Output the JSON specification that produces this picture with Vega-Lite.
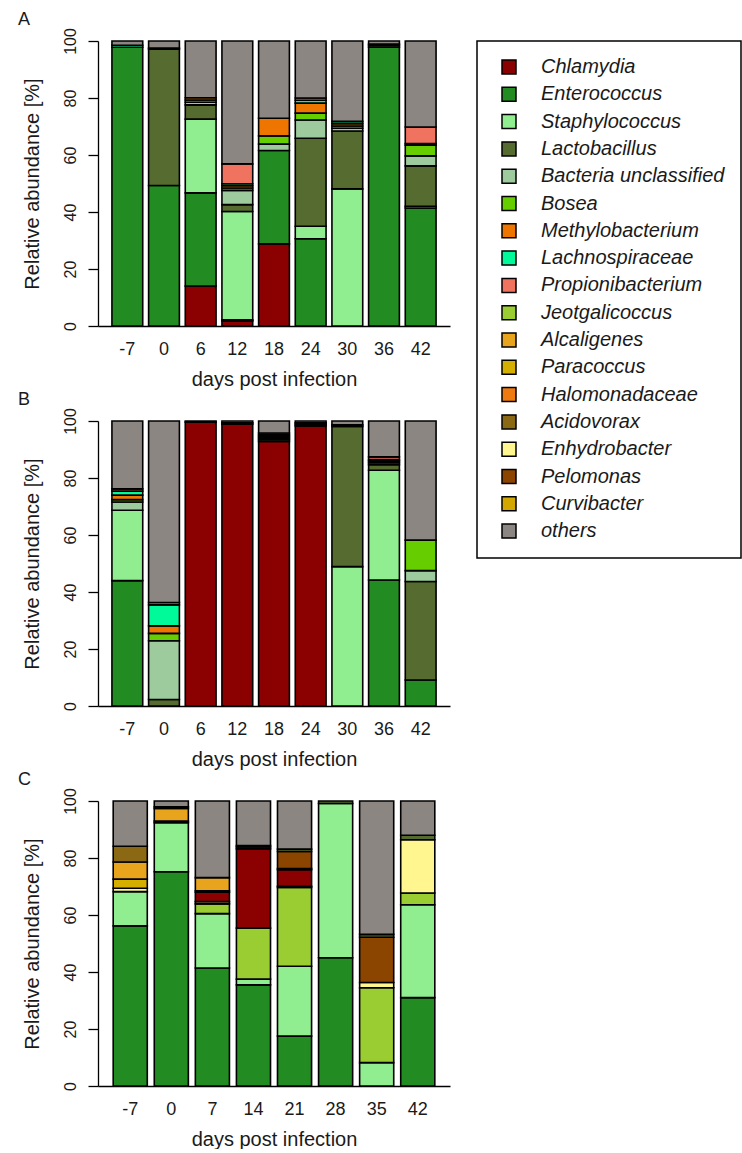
{
  "$schema": "https://vega.github.io/schema/vega-lite/v6.json",
  "background": "white",
  "padding": {"left": 18, "top": 10, "right": 0, "bottom": 0},
  "bounds": "flush",
  "spacing": 95,
  "config": {
    "font": "Liberation Sans",
    "view": {"stroke": null},
    "axis": {"grid": false, "domainColor": "black", "tickColor": "black", "labelColor": "#1a1a1a", "titleColor": "#1a1a1a", "titleFontWeight": "normal", "domainWidth": 1.3, "tickWidth": 1.3},
    "title": {"anchor": "start", "frame": "bounds", "fontSize": 18, "fontWeight": "normal", "color": "#1a1a1a", "offset": 0, "dx": -4, "dy": 5}
  },
  "data": {"values": [
    {"p":"A","day":-7,"taxon":"Enterococcus","pct":97.8,"k":2},
    {"p":"A","day":-7,"taxon":"Lachnospiraceae","pct":0.7,"k":8},
    {"p":"A","day":-7,"taxon":"others","pct":1.5,"k":18},
    {"p":"A","day":0,"taxon":"Enterococcus","pct":49.3,"k":2},
    {"p":"A","day":0,"taxon":"Lactobacillus","pct":47.8,"k":4},
    {"p":"A","day":0,"taxon":"Bosea","pct":0.4,"k":6},
    {"p":"A","day":0,"taxon":"others","pct":2.5,"k":18},
    {"p":"A","day":6,"taxon":"Chlamydia","pct":14.0,"k":1},
    {"p":"A","day":6,"taxon":"Enterococcus","pct":32.7,"k":2},
    {"p":"A","day":6,"taxon":"Staphylococcus","pct":25.9,"k":3},
    {"p":"A","day":6,"taxon":"Lactobacillus","pct":5.0,"k":4},
    {"p":"A","day":6,"taxon":"Bacteria unclassified","pct":0.9,"k":5},
    {"p":"A","day":6,"taxon":"Bosea","pct":0.8,"k":6},
    {"p":"A","day":6,"taxon":"Methylobacterium","pct":0.8,"k":7},
    {"p":"A","day":6,"taxon":"others","pct":19.9,"k":18},
    {"p":"A","day":12,"taxon":"Chlamydia","pct":1.8,"k":1},
    {"p":"A","day":12,"taxon":"Enterococcus","pct":0.4,"k":2},
    {"p":"A","day":12,"taxon":"Staphylococcus","pct":38.0,"k":3},
    {"p":"A","day":12,"taxon":"Lactobacillus","pct":2.4,"k":4},
    {"p":"A","day":12,"taxon":"Bacteria unclassified","pct":5.0,"k":5},
    {"p":"A","day":12,"taxon":"Bosea","pct":0.8,"k":6},
    {"p":"A","day":12,"taxon":"Methylobacterium","pct":0.8,"k":7},
    {"p":"A","day":12,"taxon":"Lachnospiraceae","pct":0.7,"k":8},
    {"p":"A","day":12,"taxon":"Propionibacterium","pct":7.0,"k":9},
    {"p":"A","day":12,"taxon":"others","pct":43.1,"k":18},
    {"p":"A","day":18,"taxon":"Chlamydia","pct":28.8,"k":1},
    {"p":"A","day":18,"taxon":"Enterococcus","pct":32.8,"k":2},
    {"p":"A","day":18,"taxon":"Bacteria unclassified","pct":2.2,"k":5},
    {"p":"A","day":18,"taxon":"Bosea","pct":2.9,"k":6},
    {"p":"A","day":18,"taxon":"Methylobacterium","pct":6.2,"k":7},
    {"p":"A","day":18,"taxon":"others","pct":27.1,"k":18},
    {"p":"A","day":24,"taxon":"Enterococcus","pct":30.6,"k":2},
    {"p":"A","day":24,"taxon":"Staphylococcus","pct":4.4,"k":3},
    {"p":"A","day":24,"taxon":"Lactobacillus","pct":30.9,"k":4},
    {"p":"A","day":24,"taxon":"Bacteria unclassified","pct":6.4,"k":5},
    {"p":"A","day":24,"taxon":"Bosea","pct":2.4,"k":6},
    {"p":"A","day":24,"taxon":"Methylobacterium","pct":3.5,"k":7},
    {"p":"A","day":24,"taxon":"Lachnospiraceae","pct":1.0,"k":8},
    {"p":"A","day":24,"taxon":"Propionibacterium","pct":0.8,"k":9},
    {"p":"A","day":24,"taxon":"others","pct":20.0,"k":18},
    {"p":"A","day":30,"taxon":"Staphylococcus","pct":48.1,"k":3},
    {"p":"A","day":30,"taxon":"Lactobacillus","pct":20.3,"k":4},
    {"p":"A","day":30,"taxon":"Bacteria unclassified","pct":1.0,"k":5},
    {"p":"A","day":30,"taxon":"Bosea","pct":0.8,"k":6},
    {"p":"A","day":30,"taxon":"Methylobacterium","pct":0.8,"k":7},
    {"p":"A","day":30,"taxon":"Lachnospiraceae","pct":0.8,"k":8},
    {"p":"A","day":30,"taxon":"others","pct":28.2,"k":18},
    {"p":"A","day":36,"taxon":"Enterococcus","pct":97.8,"k":2},
    {"p":"A","day":36,"taxon":"Lactobacillus","pct":0.6,"k":4},
    {"p":"A","day":36,"taxon":"Bosea","pct":0.5,"k":6},
    {"p":"A","day":36,"taxon":"others","pct":1.1,"k":18},
    {"p":"A","day":42,"taxon":"Enterococcus","pct":41.4,"k":2},
    {"p":"A","day":42,"taxon":"Staphylococcus","pct":0.6,"k":3},
    {"p":"A","day":42,"taxon":"Lactobacillus","pct":14.2,"k":4},
    {"p":"A","day":42,"taxon":"Bacteria unclassified","pct":3.5,"k":5},
    {"p":"A","day":42,"taxon":"Bosea","pct":3.7,"k":6},
    {"p":"A","day":42,"taxon":"Methylobacterium","pct":0.6,"k":7},
    {"p":"A","day":42,"taxon":"Propionibacterium","pct":5.8,"k":9},
    {"p":"A","day":42,"taxon":"others","pct":30.2,"k":18},

    {"p":"B","day":-7,"taxon":"Enterococcus","pct":44.0,"k":2},
    {"p":"B","day":-7,"taxon":"Staphylococcus","pct":24.7,"k":3},
    {"p":"B","day":-7,"taxon":"Bacteria unclassified","pct":2.9,"k":5},
    {"p":"B","day":-7,"taxon":"Bosea","pct":0.8,"k":6},
    {"p":"B","day":-7,"taxon":"Methylobacterium","pct":1.6,"k":7},
    {"p":"B","day":-7,"taxon":"Lachnospiraceae","pct":1.4,"k":8},
    {"p":"B","day":-7,"taxon":"Propionibacterium","pct":0.8,"k":9},
    {"p":"B","day":-7,"taxon":"others","pct":23.8,"k":18},
    {"p":"B","day":0,"taxon":"Lactobacillus","pct":2.3,"k":4},
    {"p":"B","day":0,"taxon":"Bacteria unclassified","pct":20.6,"k":5},
    {"p":"B","day":0,"taxon":"Bosea","pct":2.6,"k":6},
    {"p":"B","day":0,"taxon":"Methylobacterium","pct":2.6,"k":7},
    {"p":"B","day":0,"taxon":"Lachnospiraceae","pct":7.4,"k":8},
    {"p":"B","day":0,"taxon":"Propionibacterium","pct":0.8,"k":9},
    {"p":"B","day":0,"taxon":"others","pct":63.7,"k":18},
    {"p":"B","day":6,"taxon":"Chlamydia","pct":99.6,"k":1},
    {"p":"B","day":6,"taxon":"others","pct":0.4,"k":18},
    {"p":"B","day":12,"taxon":"Chlamydia","pct":98.9,"k":1},
    {"p":"B","day":12,"taxon":"Enterococcus","pct":0.5,"k":2},
    {"p":"B","day":12,"taxon":"others","pct":0.6,"k":18},
    {"p":"B","day":18,"taxon":"Chlamydia","pct":92.8,"k":1},
    {"p":"B","day":18,"taxon":"Enterococcus","pct":0.6,"k":2},
    {"p":"B","day":18,"taxon":"Lactobacillus","pct":0.6,"k":4},
    {"p":"B","day":18,"taxon":"Bacteria unclassified","pct":0.6,"k":5},
    {"p":"B","day":18,"taxon":"Bosea","pct":0.6,"k":6},
    {"p":"B","day":18,"taxon":"Methylobacterium","pct":0.6,"k":7},
    {"p":"B","day":18,"taxon":"others","pct":4.2,"k":18},
    {"p":"B","day":24,"taxon":"Chlamydia","pct":98.3,"k":1},
    {"p":"B","day":24,"taxon":"Enterococcus","pct":0.6,"k":2},
    {"p":"B","day":24,"taxon":"Lactobacillus","pct":0.5,"k":4},
    {"p":"B","day":24,"taxon":"others","pct":0.6,"k":18},
    {"p":"B","day":30,"taxon":"Staphylococcus","pct":48.9,"k":3},
    {"p":"B","day":30,"taxon":"Lactobacillus","pct":49.2,"k":4},
    {"p":"B","day":30,"taxon":"Bacteria unclassified","pct":0.6,"k":5},
    {"p":"B","day":30,"taxon":"others","pct":1.3,"k":18},
    {"p":"B","day":36,"taxon":"Enterococcus","pct":44.2,"k":2},
    {"p":"B","day":36,"taxon":"Staphylococcus","pct":38.5,"k":3},
    {"p":"B","day":36,"taxon":"Lactobacillus","pct":2.0,"k":4},
    {"p":"B","day":36,"taxon":"Bacteria unclassified","pct":0.7,"k":5},
    {"p":"B","day":36,"taxon":"Bosea","pct":0.6,"k":6},
    {"p":"B","day":36,"taxon":"Lachnospiraceae","pct":0.5,"k":8},
    {"p":"B","day":36,"taxon":"Propionibacterium","pct":0.9,"k":9},
    {"p":"B","day":36,"taxon":"others","pct":12.6,"k":18},
    {"p":"B","day":42,"taxon":"Enterococcus","pct":9.1,"k":2},
    {"p":"B","day":42,"taxon":"Lactobacillus","pct":34.6,"k":4},
    {"p":"B","day":42,"taxon":"Bacteria unclassified","pct":3.8,"k":5},
    {"p":"B","day":42,"taxon":"Bosea","pct":10.7,"k":6},
    {"p":"B","day":42,"taxon":"others","pct":41.8,"k":18},

    {"p":"C","day":-7,"taxon":"Enterococcus","pct":56.2,"k":1},
    {"p":"C","day":-7,"taxon":"Staphylococcus","pct":12.0,"k":2},
    {"p":"C","day":-7,"taxon":"Enhydrobacter","pct":1.2,"k":4},
    {"p":"C","day":-7,"taxon":"Paracoccus","pct":3.2,"k":6},
    {"p":"C","day":-7,"taxon":"Alcaligenes","pct":6.0,"k":7},
    {"p":"C","day":-7,"taxon":"Acidovorax","pct":5.5,"k":9},
    {"p":"C","day":-7,"taxon":"others","pct":15.9,"k":20},
    {"p":"C","day":0,"taxon":"Enterococcus","pct":75.2,"k":1},
    {"p":"C","day":0,"taxon":"Staphylococcus","pct":17.2,"k":2},
    {"p":"C","day":0,"taxon":"Chlamydia","pct":0.6,"k":5},
    {"p":"C","day":0,"taxon":"Alcaligenes","pct":4.4,"k":7},
    {"p":"C","day":0,"taxon":"Acidovorax","pct":0.6,"k":9},
    {"p":"C","day":0,"taxon":"others","pct":2.0,"k":20},
    {"p":"C","day":7,"taxon":"Enterococcus","pct":41.4,"k":1},
    {"p":"C","day":7,"taxon":"Staphylococcus","pct":19.1,"k":2},
    {"p":"C","day":7,"taxon":"Jeotgalicoccus","pct":3.4,"k":3},
    {"p":"C","day":7,"taxon":"Enhydrobacter","pct":0.8,"k":4},
    {"p":"C","day":7,"taxon":"Chlamydia","pct":3.3,"k":5},
    {"p":"C","day":7,"taxon":"Paracoccus","pct":0.5,"k":6},
    {"p":"C","day":7,"taxon":"Alcaligenes","pct":4.6,"k":7},
    {"p":"C","day":7,"taxon":"others","pct":26.9,"k":20},
    {"p":"C","day":14,"taxon":"Enterococcus","pct":35.5,"k":1},
    {"p":"C","day":14,"taxon":"Staphylococcus","pct":2.0,"k":2},
    {"p":"C","day":14,"taxon":"Jeotgalicoccus","pct":17.9,"k":3},
    {"p":"C","day":14,"taxon":"Chlamydia","pct":27.8,"k":5},
    {"p":"C","day":14,"taxon":"Acidovorax","pct":0.7,"k":9},
    {"p":"C","day":14,"taxon":"Pelomonas","pct":0.5,"k":10},
    {"p":"C","day":14,"taxon":"others","pct":15.6,"k":20},
    {"p":"C","day":21,"taxon":"Enterococcus","pct":17.5,"k":1},
    {"p":"C","day":21,"taxon":"Staphylococcus","pct":24.5,"k":2},
    {"p":"C","day":21,"taxon":"Jeotgalicoccus","pct":27.7,"k":3},
    {"p":"C","day":21,"taxon":"Enhydrobacter","pct":0.4,"k":4},
    {"p":"C","day":21,"taxon":"Chlamydia","pct":5.8,"k":5},
    {"p":"C","day":21,"taxon":"Acidovorax","pct":0.4,"k":9},
    {"p":"C","day":21,"taxon":"Pelomonas","pct":6.0,"k":10},
    {"p":"C","day":21,"taxon":"Lactobacillus","pct":0.8,"k":12},
    {"p":"C","day":21,"taxon":"others","pct":16.9,"k":20},
    {"p":"C","day":28,"taxon":"Enterococcus","pct":45.0,"k":1},
    {"p":"C","day":28,"taxon":"Staphylococcus","pct":54.1,"k":2},
    {"p":"C","day":28,"taxon":"Lactobacillus","pct":0.9,"k":12},
    {"p":"C","day":35,"taxon":"Staphylococcus","pct":8.2,"k":2},
    {"p":"C","day":35,"taxon":"Jeotgalicoccus","pct":26.3,"k":3},
    {"p":"C","day":35,"taxon":"Enhydrobacter","pct":1.8,"k":4},
    {"p":"C","day":35,"taxon":"Pelomonas","pct":15.9,"k":10},
    {"p":"C","day":35,"taxon":"Lactobacillus","pct":1.0,"k":12},
    {"p":"C","day":35,"taxon":"others","pct":46.8,"k":20},
    {"p":"C","day":42,"taxon":"Enterococcus","pct":31.0,"k":1},
    {"p":"C","day":42,"taxon":"Staphylococcus","pct":32.6,"k":2},
    {"p":"C","day":42,"taxon":"Jeotgalicoccus","pct":4.1,"k":3},
    {"p":"C","day":42,"taxon":"Enhydrobacter","pct":18.7,"k":4},
    {"p":"C","day":42,"taxon":"Lactobacillus","pct":1.6,"k":12},
    {"p":"C","day":42,"taxon":"others","pct":12.0,"k":20}
  ]},
  "vconcat": [
    {
      "title": {"text": "A"},
      "width": 352, "height": 285,
      "transform": [{"filter": "datum.p == 'A'"}],
      "mark": {"type": "bar", "stroke": "black", "strokeWidth": 1.6},
      "encoding": {
        "x": {"field": "day", "type": "ordinal", "scale": {"paddingInner": 0.16, "paddingOuter": 0.38},
              "axis": {"title": "days post infection", "labelAngle": 0, "ticks": false, "tickSize": 0, "labelPadding": 14, "labelFontSize": 18, "titleFontSize": 20, "titlePadding": 11}},
        "y": {"field": "pct", "type": "quantitative", "stack": "zero", "scale": {"domain": [0, 100], "nice": false},
              "axis": {"title": "Relative abundance [%]", "values": [0, 20, 40, 60, 80, 100], "labelAngle": 270, "labelAlign": "center", "labelBaseline": "bottom", "tickSize": 10, "labelPadding": 10, "labelFontSize": 16, "titleFontSize": 20, "titlePadding": 20}},
        "color": {"field": "taxon", "type": "nominal",
                  "scale": {"domain": ["Chlamydia","Enterococcus","Staphylococcus","Lactobacillus","Bacteria unclassified","Bosea","Methylobacterium","Lachnospiraceae","Propionibacterium","Jeotgalicoccus","Alcaligenes","Paracoccus","Halomonadaceae","Acidovorax","Enhydrobacter","Pelomonas","Curvibacter","others"],
                            "range": ["#8B0000","#228B22","#90EE90","#556B2F","#9DCB9D","#66CD00","#EE7600","#00FA9A","#F0735F","#9ACD32","#E8A41C","#D4AF00","#EE7A10","#8B6914","#FFF68F","#8B4500","#D2A800","#8B8682"]},
                  "legend": {"orient": "none", "legendX": 379, "legendY": 0, "title": null, "strokeColor": "black", "padding": 16, "symbolType": "square", "symbolSize": 196, "symbolStrokeColor": "black", "symbolStrokeWidth": 1.5, "symbolOpacity": 1, "symbolOffset": 6, "labelFontSize": 20, "labelFontStyle": "italic", "labelColor": "#1a1a1a", "labelOffset": 22, "rowPadding": 7.3, "labelLimit": 400,
                             "encode": {"legend": {"update": {"strokeWidth": {"value": 1.5}}}}}},
        "order": {"field": "k", "type": "quantitative"}
      }
    },
    {
      "title": {"text": "B"},
      "width": 352, "height": 285,
      "transform": [{"filter": "datum.p == 'B'"}],
      "mark": {"type": "bar", "stroke": "black", "strokeWidth": 1.6},
      "encoding": {
        "x": {"field": "day", "type": "ordinal", "scale": {"paddingInner": 0.16, "paddingOuter": 0.38},
              "axis": {"title": "days post infection", "labelAngle": 0, "ticks": false, "tickSize": 0, "labelPadding": 14, "labelFontSize": 18, "titleFontSize": 20, "titlePadding": 11}},
        "y": {"field": "pct", "type": "quantitative", "stack": "zero", "scale": {"domain": [0, 100], "nice": false},
              "axis": {"title": "Relative abundance [%]", "values": [0, 20, 40, 60, 80, 100], "labelAngle": 270, "labelAlign": "center", "labelBaseline": "bottom", "tickSize": 10, "labelPadding": 10, "labelFontSize": 16, "titleFontSize": 20, "titlePadding": 20}},
        "color": {"field": "taxon", "type": "nominal",
                  "scale": {"domain": ["Chlamydia","Enterococcus","Staphylococcus","Lactobacillus","Bacteria unclassified","Bosea","Methylobacterium","Lachnospiraceae","Propionibacterium","Jeotgalicoccus","Alcaligenes","Paracoccus","Halomonadaceae","Acidovorax","Enhydrobacter","Pelomonas","Curvibacter","others"],
                            "range": ["#8B0000","#228B22","#90EE90","#556B2F","#9DCB9D","#66CD00","#EE7600","#00FA9A","#F0735F","#9ACD32","#E8A41C","#D4AF00","#EE7A10","#8B6914","#FFF68F","#8B4500","#D2A800","#8B8682"]}},
        "order": {"field": "k", "type": "quantitative"}
      }
    },
    {
      "title": {"text": "C"},
      "width": 352, "height": 285,
      "transform": [{"filter": "datum.p == 'C'"}],
      "mark": {"type": "bar", "stroke": "black", "strokeWidth": 1.6},
      "encoding": {
        "x": {"field": "day", "type": "ordinal", "scale": {"paddingInner": 0.17, "paddingOuter": 0.37},
              "axis": {"title": "days post infection", "labelAngle": 0, "ticks": false, "tickSize": 0, "labelPadding": 14, "labelFontSize": 18, "titleFontSize": 20, "titlePadding": 11}},
        "y": {"field": "pct", "type": "quantitative", "stack": "zero", "scale": {"domain": [0, 100], "nice": false},
              "axis": {"title": "Relative abundance [%]", "values": [0, 20, 40, 60, 80, 100], "labelAngle": 270, "labelAlign": "center", "labelBaseline": "bottom", "tickSize": 10, "labelPadding": 10, "labelFontSize": 16, "titleFontSize": 20, "titlePadding": 20}},
        "color": {"field": "taxon", "type": "nominal",
                  "scale": {"domain": ["Chlamydia","Enterococcus","Staphylococcus","Lactobacillus","Bacteria unclassified","Bosea","Methylobacterium","Lachnospiraceae","Propionibacterium","Jeotgalicoccus","Alcaligenes","Paracoccus","Halomonadaceae","Acidovorax","Enhydrobacter","Pelomonas","Curvibacter","others"],
                            "range": ["#8B0000","#228B22","#90EE90","#556B2F","#9DCB9D","#66CD00","#EE7600","#00FA9A","#F0735F","#9ACD32","#E8A41C","#D4AF00","#EE7A10","#8B6914","#FFF68F","#8B4500","#D2A800","#8B8682"]}},
        "order": {"field": "k", "type": "quantitative"}
      }
    }
  ]
}
